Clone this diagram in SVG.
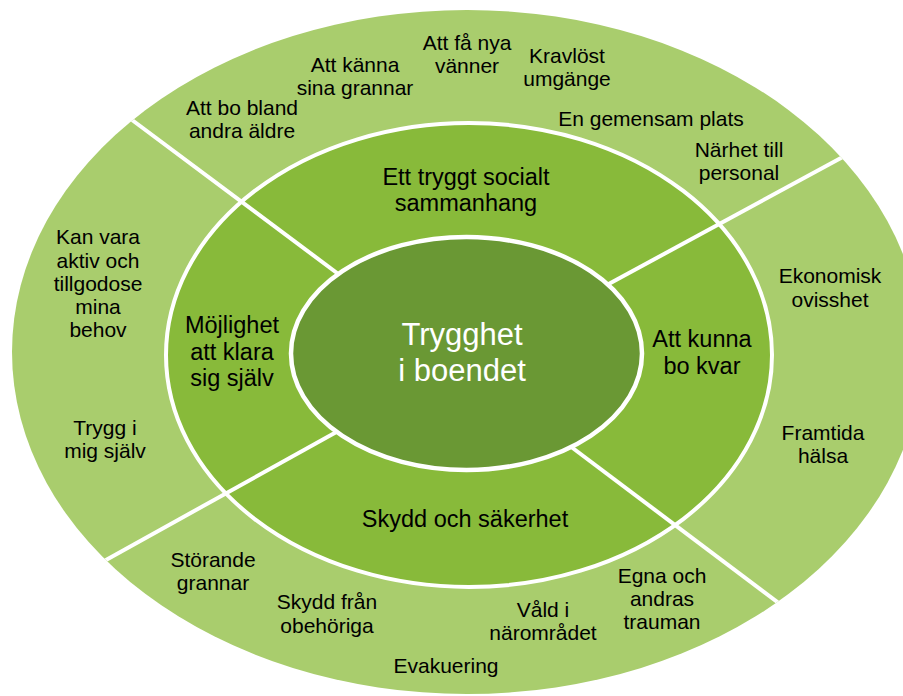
<svg xmlns="http://www.w3.org/2000/svg" width="903" height="696" viewBox="0 0 903 696">
<defs>
<clipPath id="outerClip"><ellipse cx="467" cy="352" rx="455" ry="342"/></clipPath>
</defs>
<style>
.t{font-family:"Liberation Sans",Arial,sans-serif;font-size:21px;fill:#000;text-anchor:middle}
.r{font-family:"Liberation Sans",Arial,sans-serif;font-size:23.5px;fill:#000;text-anchor:middle}
.c{font-family:"Liberation Sans",Arial,sans-serif;font-size:31px;fill:#fff;text-anchor:middle}
.div{stroke:#fff;stroke-width:4;fill:none}
</style>
<rect width="903" height="696" fill="#fff"/>
<g id="outer-ring">
<ellipse cx="467" cy="352" rx="455" ry="342" fill="#A9CD6D"/>
</g>
<g id="middle-ring">
<ellipse cx="469" cy="355" rx="303" ry="232" fill="#88BA3A" stroke="#fff" stroke-width="4"/>
</g>
<g id="connectors" clip-path="url(#outerClip)">
<line class="div" x1="120" y1="111" x2="345" y2="279"/>
<line class="div" x1="566" y1="443" x2="792" y2="613"/>
<line class="div" x1="852" y1="152" x2="605" y2="286"/>
<line class="div" x1="340" y1="430" x2="88" y2="570"/>
</g>
<g id="center">
<ellipse cx="466.5" cy="353.5" rx="175.5" ry="116.5" fill="#6A9834" stroke="#fff" stroke-width="4.5"/>
<text class="c" x="462" y="345">Trygghet</text>
<text class="c" x="462" y="381">i boendet</text>
</g>
<g id="ring-social">
<text class="r" x="466" y="185">Ett tryggt socialt</text>
<text class="r" x="466" y="211">sammanhang</text>
</g>
<g id="ring-sjalv">
<text class="r" x="232" y="333">Möjlighet</text>
<text class="r" x="232" y="360">att klara</text>
<text class="r" x="232" y="386">sig själv</text>
</g>
<g id="ring-bokvar">
<text class="r" x="702" y="347">Att kunna</text>
<text class="r" x="702" y="374">bo kvar</text>
</g>
<g id="ring-skydd">
<text class="r" x="465" y="527">Skydd och säkerhet</text>
</g>
<g id="item-bo-bland">
<text class="t" x="242" y="115">Att bo bland</text>
<text class="t" x="242" y="138">andra äldre</text>
</g>
<g id="item-kanna">
<text class="t" x="355" y="72">Att känna</text>
<text class="t" x="355" y="95">sina grannar</text>
</g>
<g id="item-vanner">
<text class="t" x="467" y="50">Att få nya</text>
<text class="t" x="467" y="73">vänner</text>
</g>
<g id="item-kravlost">
<text class="t" x="567" y="63">Kravlöst</text>
<text class="t" x="567" y="86">umgänge</text>
</g>
<g id="item-plats">
<text class="t" x="651" y="126">En gemensam plats</text>
</g>
<g id="item-personal">
<text class="t" x="739" y="157">Närhet till</text>
<text class="t" x="739" y="180">personal</text>
</g>
<g id="item-aktiv">
<text class="t" x="98" y="244">Kan vara</text>
<text class="t" x="98" y="268">aktiv och</text>
<text class="t" x="98" y="291">tillgodose</text>
<text class="t" x="98" y="314">mina</text>
<text class="t" x="98" y="337">behov</text>
</g>
<g id="item-trygg">
<text class="t" x="105" y="435">Trygg i</text>
<text class="t" x="105" y="458">mig själv</text>
</g>
<g id="item-ekonomisk">
<text class="t" x="830" y="283">Ekonomisk</text>
<text class="t" x="830" y="307">ovisshet</text>
</g>
<g id="item-framtida">
<text class="t" x="823" y="440">Framtida</text>
<text class="t" x="823" y="463">hälsa</text>
</g>
<g id="item-storande">
<text class="t" x="213" y="567">Störande</text>
<text class="t" x="213" y="590">grannar</text>
</g>
<g id="item-obehoriga">
<text class="t" x="327" y="609">Skydd från</text>
<text class="t" x="327" y="633">obehöriga</text>
</g>
<g id="item-evakuering">
<text class="t" x="446" y="673">Evakuering</text>
</g>
<g id="item-vald">
<text class="t" x="543" y="617">Våld i</text>
<text class="t" x="543" y="640">närområdet</text>
</g>
<g id="item-trauman">
<text class="t" x="662" y="583">Egna och</text>
<text class="t" x="662" y="606">andras</text>
<text class="t" x="662" y="629">trauman</text>
</g>
</svg>
